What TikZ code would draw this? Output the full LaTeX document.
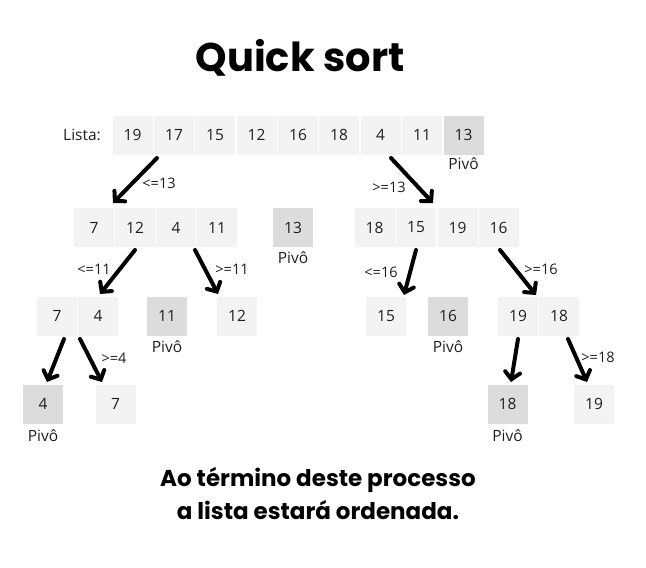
\documentclass[tikz,border=0pt]{standalone}
\usepackage{fontspec}
\setmainfont{Open Sans}
\newfontfamily\titlefont{Poppins}
\usetikzlibrary{arrows.meta}
\definecolor{cellgray}{HTML}{F3F3F3}
\definecolor{pivgray}{HTML}{DCDCDC}
\definecolor{txt}{HTML}{1E1E1E}
\tikzset{
  cell/.style={minimum width=41pt,minimum height=40pt,inner sep=0pt,fill=cellgray,draw=white,line width=1pt,text=txt,font=\fontsize{15.5}{18}\selectfont},
  pivcell/.style={cell,fill=pivgray},
  lbl/.style={text=txt,font=\fontsize{15.5}{18}\selectfont,inner sep=0pt},
  cond/.style={text=txt,font=\fontsize{14.5}{17}\selectfont,inner sep=0pt},
  arr/.style={line width=4pt,-{Straight Barb[length=7pt,width=15pt,line cap=round]},line cap=round}
}
\begin{document}
\begin{tikzpicture}[x=1pt,y=-1pt]
\useasboundingbox (0,0) rectangle (646,568);
\node[font=\titlefont\bfseries\fontsize{40}{46}\selectfont,text=black] (title) at (300,58) {Quick sort};
% level 1
\node[lbl,anchor=east] (lista) at (101,135) {Lista:};
\node[cell] (a1) at (132.5,135) {19};
\node[cell] (a2) at (174,135) {17};
\node[cell] (a3) at (215,135) {15};
\node[cell] (a4) at (256.5,135) {12};
\node[cell] (a5) at (298,135) {16};
\node[cell] (a6) at (339,135) {18};
\node[cell] (a7) at (380.5,135) {4};
\node[cell] (a8) at (422,135) {11};
\node[pivcell] (a9) at (463.5,135) {13};
\node[lbl] (p1) at (463.5,164) {Pivô};
% level 2
\node[cell] (b1) at (94,227.5) {7};
\node[cell] (b2) at (135,227.5) {12};
\node[cell] (b3) at (176,227.5) {4};
\node[cell] (b4) at (217,227.5) {11};
\node[pivcell] (b5) at (293,227.5) {13};
\node[lbl] (p2) at (293,258) {Pivô};
\node[cell] (c1) at (374.5,227.5) {18};
\node[cell] (c2) at (416,227.5) {15};
\node[cell] (c3) at (457.5,227.5) {19};
\node[cell] (c4) at (498.5,227.5) {16};
% level 3
\node[cell] (d1) at (57,316) {7};
\node[cell] (d2) at (98,316) {4};
\node[pivcell] (d3) at (167,316) {11};
\node[lbl] (p3) at (167,347) {Pivô};
\node[cell] (d4) at (237,316) {12};
\node[cell] (e1) at (386,316) {15};
\node[pivcell] (e2) at (448,316) {16};
\node[lbl] (p4) at (448,347) {Pivô};
\node[cell] (e3) at (518,316) {19};
\node[cell] (e4) at (559,316) {18};
% level 4
\node[pivcell] (f1) at (43,404) {4};
\node[lbl] (p5) at (43,436) {Pivô};
\node[cell] (f2) at (115.5,404) {7};
\node[pivcell] (g1) at (507.5,404) {18};
\node[lbl] (p6) at (507.5,436) {Pivô};
\node[cell] (g2) at (594,404) {19};
% arrows
\coordinate (s1) at (157,158); \coordinate (t1) at (113,203);
\coordinate (s2) at (391,158); \coordinate (t2) at (433,203);
\coordinate (s3) at (135,250); \coordinate (t3) at (100,294);
\coordinate (s4) at (195,250); \coordinate (t4) at (218,294);
\coordinate (s5) at (416,250); \coordinate (t5) at (404,295);
\coordinate (s6) at (500,250); \coordinate (t6) at (536,295);
\coordinate (s7) at (64,339); \coordinate (t7) at (47,382);
\coordinate (s8) at (80,339); \coordinate (t8) at (102,382);
\coordinate (s9) at (518,339); \coordinate (t9) at (511,382);
\coordinate (s10) at (568,339); \coordinate (t10) at (587,382);
\foreach \i in {1,...,10} {\draw[arr] (s\i) -- (t\i);}
\node[cond] (l1) at (159,183) {<=13};
\node[cond] (l2) at (389,187) {>=13};
\node[cond] (l3) at (94,269) {<=11};
\node[cond] (l4) at (232,269) {>=11};
\node[cond] (l5) at (381,272) {<=16};
\node[cond] (l6) at (541,269) {>=16};
\node[cond] (l7) at (114,358) {>=4};
\node[cond] (l8) at (598,357) {>=18};
% bottom text
\node[font=\titlefont\bfseries\fontsize{23}{33}\selectfont,text=black,align=center] (note) at (318,493) {Ao término deste processo\\ a lista estará ordenada.};
\end{tikzpicture}
\end{document}
